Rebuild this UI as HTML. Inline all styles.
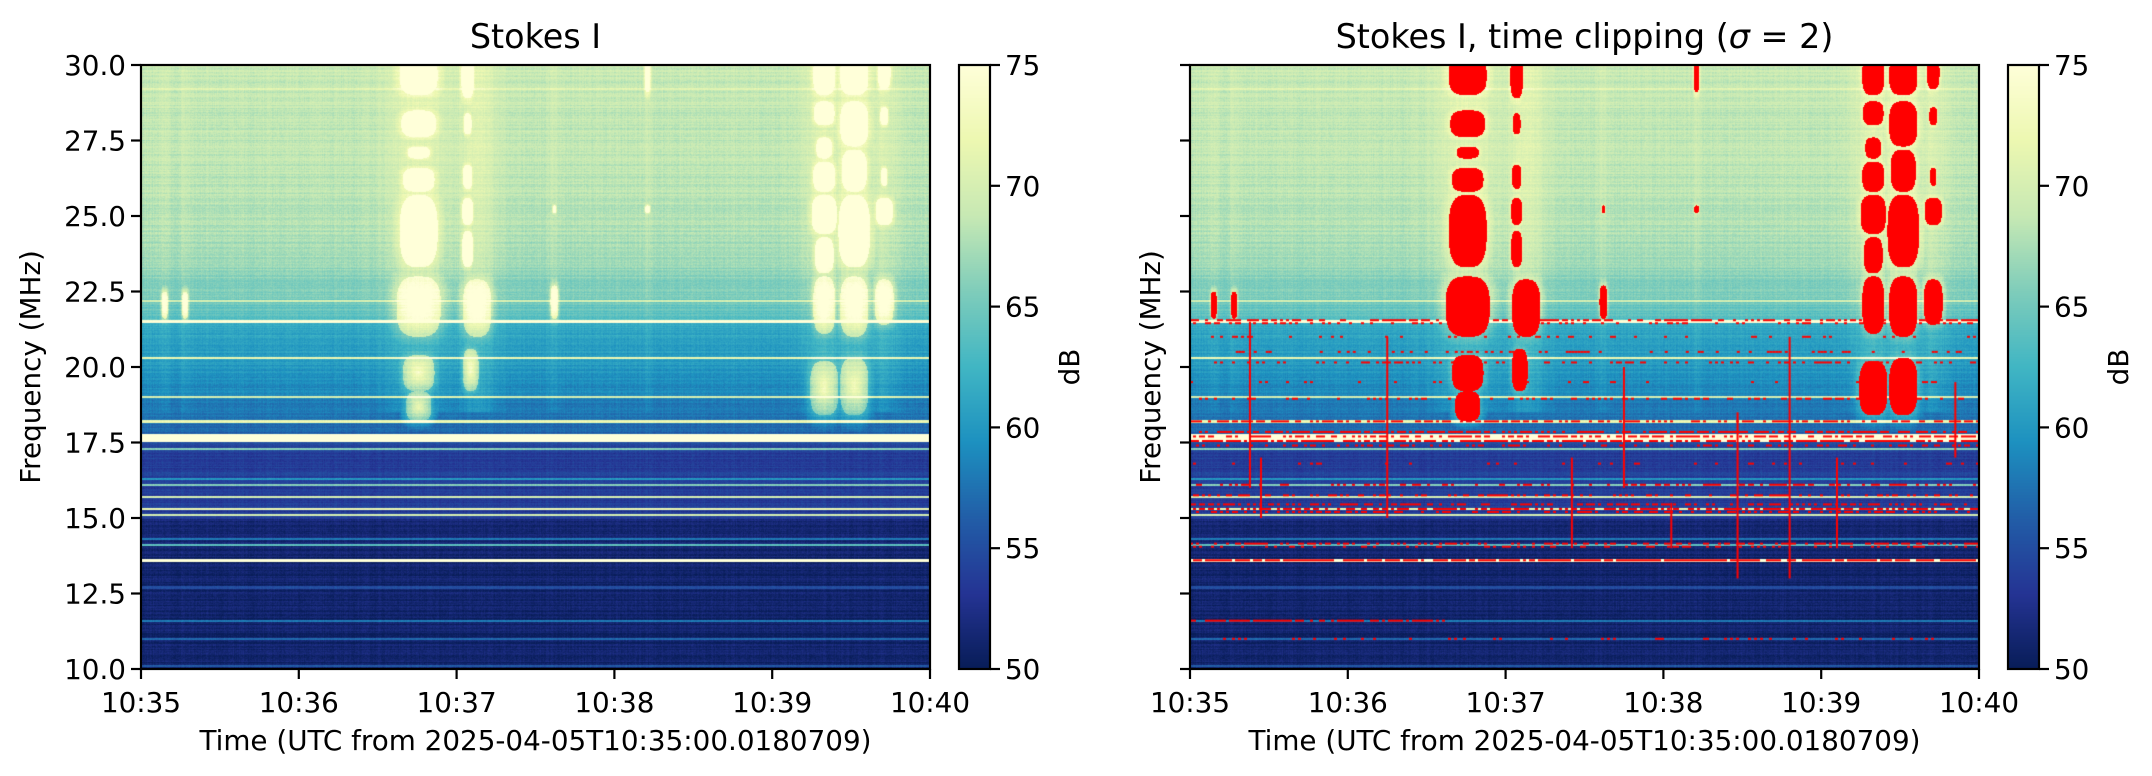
<!DOCTYPE html>
<html><head><meta charset="utf-8">
<style>
html,body{margin:0;padding:0;background:#fff;}
#wrap{position:relative;width:2152px;height:776px;overflow:hidden;background:#fff;font-family:"DejaVu Sans","Liberation Sans",sans-serif;}
canvas{position:absolute;}
svg{position:absolute;left:0;top:0;}
</style></head>
<body>
<div id="wrap">
<canvas id="c1" width="789" height="604" style="left:141px;top:65px"></canvas>
<canvas id="c2" width="789" height="604" style="left:1190px;top:65px"></canvas>
<canvas id="cb1" width="31" height="604" style="left:959px;top:65px"></canvas>
<canvas id="cb2" width="31" height="604" style="left:2008px;top:65px"></canvas>
<svg id="ov" width="2152" height="776"></svg>
</div>
<script>
// ---- data ----
const timeTicks = ['10:35','10:36','10:37','10:38','10:39','10:40'];
const freqTicks = [10,12.5,15,17.5,20,22.5,25,27.5,30];
const cbTicks = [50,55,60,65,70,75];
const profFreq = [10,12.5,14.9,15.0,17.3,18.0,19.0,20.0,21.4,21.6,22.5,23.5,25,27.5,30];
const profDb   = [51,51,51.3,53.5,54,57,58.5,60,61.5,64,65.5,67,68,68.5,69];
const lineFreq = [21.5,20.3,19.0,18.2,17.65,17.3,16.1,15.7,15.3,15.1,14.1,13.6,12.7,11.6,11.0,10.1,22.2,29.2,16.3,14.3];
const lineDb   = [75,72,70,72,76,66,66,70,72,70,64,76,55,58,57,56,70,71,60,58];
const lineW    = [0.06,0.04,0.04,0.05,0.25,0.03,0.04,0.04,0.05,0.04,0.05,0.05,0.05,0.04,0.03,0.03,0.03,0.03,0.03,0.04];
const burstT  = [1.76,1.76,1.76,1.76,1.76,1.76,1.76,1.76, 2.07,2.07,2.07,2.07,2.07,2.13,2.09, 4.33,4.33,4.33,4.33,4.33,4.33,4.33,4.33, 4.52,4.52,4.52,4.52,4.52,4.52, 4.71,4.71,4.71,4.71,4.71, 3.21,3.21,2.62,2.62,0.15,0.28];
const burstF0 = [29.0,27.6,26.9,25.8,23.3,21.0,19.2,18.2, 28.9,27.7,25.9,24.7,23.3,21.0,19.2, 29.0,28.0,26.9,25.8,24.4,23.1,21.1,18.4, 29.0,27.3,25.8,23.3,21.0,18.4, 29.2,28.0,26.0,24.7,21.4, 29.1,25.1,21.6,25.1,21.6,21.6];
const burstF1 = [30.3,28.5,27.3,26.6,25.7,23.0,20.4,19.2, 30.3,28.4,26.7,25.6,24.5,22.9,20.6, 30.3,28.8,27.6,26.8,25.7,24.3,23.0,20.2, 30.3,28.8,27.2,25.7,23.0,20.3, 30.3,28.6,26.6,25.6,22.9, 30.3,25.35,22.7,25.35,22.5,22.5];
const burstHW = [0.12,0.11,0.07,0.10,0.12,0.14,0.10,0.08, 0.04,0.025,0.03,0.035,0.035,0.09,0.05, 0.07,0.065,0.05,0.07,0.08,0.06,0.07,0.09, 0.09,0.09,0.08,0.10,0.09,0.09, 0.04,0.025,0.02,0.055,0.06, 0.018,0.015,0.025,0.012,0.02,0.02];
const redLineF  = [21.55,21.45,20.5,20.15,18.95,18.2,17.85,17.7,17.55,17.4,16.1,15.75,15.45,15.3,15.2,14.15,14.05,13.6,11.6,11.0,21.0,19.5,16.8];
const redLineT0 = [0,0,0.1,0,0,0,0,0,0,0,0,0,0,0,0,0,0,0,0,0,0,0,0];
const redLineT1 = [5,5,4.9,5,5,5,5,5,5,5,5,5,5,5,5,5,5,5,1.6,5,5,5,5];
const redLineDen= [0.6,0.3,0.25,0.3,0.35,0.5,0.7,0.5,0.7,0.4,0.35,0.4,0.5,0.7,0.4,0.5,0.3,0.85,0.8,0.2,0.15,0.1,0.15];
const redVT  = [0.38,0.45,1.25,2.42,2.75,3.47,3.8,4.1,4.85,3.05];
const redVF0 = [16,15,15,14,16,13,13,14,17,14];
const redVF1 = [21.5,17,21,17,20,18.5,21,17,19.5,15.5];

// ---- scales ----
const W=789,H=604;
const xs = t => t/5*W;
const ys = f => (30-f)/20*H;
const tOf = x => x/W*5;
const fOf = y => 30-y/H*20;
const cmapStops=[[255,255,217],[237,248,177],[199,233,180],[127,205,187],[65,182,196],[29,145,192],[34,94,168],[37,52,148],[8,29,88]];
function cmap(v){let u=(75-v)/25;u=Math.max(0,Math.min(1,u))*8;const i=Math.min(7,Math.floor(u)),fr=u-i;const a=cmapStops[i],b=cmapStops[i+1];return [a[0]+(b[0]-a[0])*fr,a[1]+(b[1]-a[1])*fr,a[2]+(b[2]-a[2])*fr];}
function hash(a,b){let h=(a*374761393+b*668265263)|0;h=(h^(h>>>13))*1274126177|0;return ((h^(h>>>16))>>>0)/4294967296;}
function interp(f){for(let i=0;i<profFreq.length-1;i++){if(f<=profFreq[i+1]){const u=(f-profFreq[i])/(profFreq[i+1]-profFreq[i]);return profDb[i]+(profDb[i+1]-profDb[i])*u;}}return profDb[profDb.length-1];}

const rowBase=new Float32Array(H);
for(let y=0;y<H;y++){const f=fOf(y+0.5);let v=interp(f)+(hash(y,7)-0.5)*1.6;
  for(let k=0;k<lineFreq.length;k++){if(Math.abs(f-lineFreq[k])<lineW[k]/2+0.017){v=Math.max(v,lineDb[k]);}}
  rowBase[y]=v;}

function burstVal(t,f){let add=0,inside=false;
  for(let k=0;k<burstT.length;k++){const dt=Math.abs(t-burstT[k])/burstHW[k];
    const fc=(burstF0[k]+burstF1[k])/2,fh=(burstF1[k]-burstF0[k])/2;const df=Math.abs(f-fc)/fh;
    const r=Math.pow(Math.pow(dt,3)+Math.pow(df,3),1/3);
    if(r<1){inside=true;add=Math.max(add,8+6*(1-r));}
    else if(r<1.6){add=Math.max(add,8*(1.6-r)/0.6*0.5);}
    const g=Math.min(1,burstHW[k]/0.08);
    if(f>18.5&&dt<3){add=Math.max(add,2.2*g*Math.exp(-dt*dt/2));}
  }return [add,inside];}

function draw(id,clip){const cv=document.getElementById(id),ctx=cv.getContext('2d');const img=ctx.createImageData(W,H),d=img.data;
  for(let y=0;y<H;y++){const f=fOf(y+0.5);for(let x=0;x<W;x++){const t=tOf(x+0.5);
    let v=rowBase[y]+(hash(x,y)-0.5)*1.2+(hash(x,999)-0.5)*0.8;
    const bv=burstVal(t,f);v+=bv[0];let c=cmap(v);
    if(clip&&bv[1])c=[255,0,0];
    const i=(y*W+x)*4;d[i]=c[0];d[i+1]=c[1];d[i+2]=c[2];d[i+3]=255;}}
  ctx.putImageData(img,0,0);
  if(clip){ctx.fillStyle='#ff0000';
    for(let k=0;k<redLineF.length;k++){const y=ys(redLineF[k]);const x0=xs(redLineT0[k]),x1=xs(redLineT1[k]);
      for(let x=x0;x<x1;x+=3){if(hash(Math.floor(x/3),k+50)<redLineDen[k])ctx.fillRect(x,y-1,3,2);}}
    for(let k=0;k<redVT.length;k++){const x=xs(redVT[k]);ctx.fillRect(x-1,ys(redVF1[k]),2,ys(redVF0[k])-ys(redVF1[k]));}}
}
draw('c1',false);draw('c2',true);
['cb1','cb2'].forEach(id=>{const ctx=document.getElementById(id).getContext('2d');for(let y=0;y<H;y++){const c=cmap(75-y/H*25);ctx.fillStyle=`rgb(${c[0]|0},${c[1]|0},${c[2]|0})`;ctx.fillRect(0,y,31,1);}});

// ---- overlay ----
const ov=document.getElementById('ov');const NS='http://www.w3.org/2000/svg';
function el(tag,attrs,txt){const e=document.createElementNS(NS,tag);for(const k in attrs)e.setAttribute(k,attrs[k]);if(txt!==undefined)e.textContent=txt;ov.appendChild(e);return e;}
const FS=27.8;
function panel(x0,title,showY,cbx){
  const r=el('rect',{x:x0,y:65,width:W,height:H,fill:'none',stroke:'#000','stroke-width':2.2});
  
  
  const tt=el('text',{x:x0+W/2,y:48,'text-anchor':'middle','font-size':33.4,fill:'#000'},'');
  
  
  if(title==='clip'){tt.appendChild(document.createTextNode('Stokes I, time clipping ('));const s=document.createElementNS(NS,'tspan');s.setAttribute('font-style','italic');s.textContent='σ';tt.appendChild(s);tt.appendChild(document.createTextNode(' = 2)'));}else tt.textContent=title;
  timeTicks.forEach((lab,i)=>{const x=x0+xs(i);el('line',{x1:x,y1:669,x2:x,y2:679,stroke:'#000','stroke-width':2.2});
    const t=el('text',{x:x,y:712,'text-anchor':'middle','font-size':FS,fill:'#000'},lab);
    
    });
  const xl=el('text',{x:x0+W/2,y:750,'text-anchor':'middle','font-size':FS,fill:'#000'},'Time (UTC from 2025-04-05T10:35:00.0180709)');
  
  
  freqTicks.forEach(f=>{const y=65+ys(f);el('line',{x1:x0-10,y1:y,x2:x0,y2:y,stroke:'#000','stroke-width':2.2});
    if(showY){const t=el('text',{x:x0-15,y:y+10,'text-anchor':'end','font-size':FS,fill:'#000'},f.toFixed(1));
      
      }});
  const yx=showY?31:x0-39;
  const yl=el('text',{x:0,y:0,'text-anchor':'middle','font-size':FS,fill:'#000',transform:`translate(${yx+9},367) rotate(-90)`},'Frequency (MHz)');
  
  
  const cr=el('rect',{x:cbx,y:65,width:31,height:H,fill:'none',stroke:'#000','stroke-width':2.2});
  
  
  cbTicks.forEach(v=>{const y=65+(75-v)/25*H;el('line',{x1:cbx+31,y1:y,x2:cbx+41,y2:y,stroke:'#000','stroke-width':2.2});
    const t=el('text',{x:cbx+46,y:y+10,'font-size':FS,fill:'#000'},String(v));
    
    });
  const cl=el('text',{x:0,y:0,'text-anchor':'middle','font-size':FS,fill:'#000',transform:`translate(${cbx+120},367) rotate(-90)`},'dB');
  
  
}
panel(141,'Stokes I',true,959);
panel(1190,'clip',false,2008);
</script>
</body></html>
